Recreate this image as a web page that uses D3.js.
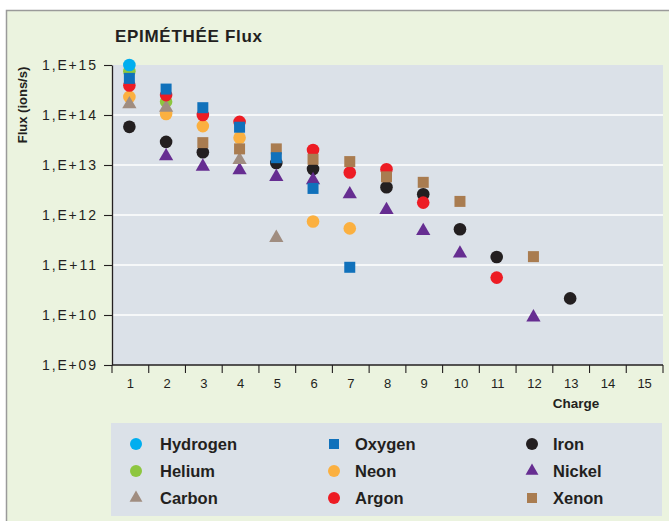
<!DOCTYPE html>
<html>
<head>
<meta charset="utf-8">
<script src="https://cdn.jsdelivr.net/npm/d3@7"></script>
<style>
  html, body { margin: 0; padding: 0; background: #ffffff; }
  svg { display: block; font-family: "Liberation Sans", Arial, Helvetica, sans-serif; }
</style>
</head>
<body>
<svg id="chart" width="669" height="521"></svg>
<script>
// ---------- data ----------
const charges = [1, 2, 3, 4, 5, 6, 7, 8, 9, 10, 11, 12, 13, 14, 15];
const yTickValues = [1e9, 1e10, 1e11, 1e12, 1e13, 1e14, 1e15];
const yTickLabels = ["1,E+09", "1,E+10", "1,E+11", "1,E+12", "1,E+13", "1,E+14", "1,E+15"];

// [charge, flux]
const hydrogen = [[1, 1.0e15]];
const helium   = [[1, 7.5e14], [2, 1.85e14]];
const carbon   = [[1, 1.65e14], [2, 1.4e14], [4, 1.26e13], [5, 3.5e11]];
const oxygen   = [[1, 5.4e14], [2, 3.3e14], [3, 1.4e14], [4, 5.7e13], [5, 1.4e13], [6, 3.4e12], [7, 9.0e10]];
const neon     = [[1, 2.3e14], [2, 1.05e14], [3, 6.0e13], [4, 3.5e13], [6, 7.4e11], [7, 5.4e11]];
const argon    = [[1, 3.9e14], [2, 2.5e14], [3, 1.0e14], [4, 7.3e13], [6, 2.0e13], [7, 7.1e12], [8, 8.2e12], [9, 1.77e12], [11, 5.6e10]];
const iron     = [[1, 5.8e13], [2, 2.9e13], [3, 1.8e13], [5, 1.1e13], [6, 8.3e12], [8, 3.6e12], [9, 2.6e12], [10, 5.2e11], [11, 1.45e11], [13, 2.15e10]];
const nickel   = [[2, 1.5e13], [3, 9.3e12], [4, 7.9e12], [5, 5.8e12], [6, 5.0e12], [7, 2.6e12], [8, 1.26e12], [9, 4.8e11], [10, 1.7e11], [12, 9.0e9]];
const xenon    = [[3, 2.8e13], [4, 2.1e13], [5, 2.1e13], [6, 1.3e13], [7, 1.17e13], [8, 5.8e12], [9, 4.5e12], [10, 1.87e12], [12, 1.47e11]];

const seriesNames = ["Hydrogen", "Helium", "Carbon", "Oxygen", "Neon", "Argon", "Iron", "Nickel", "Xenon"];
const seriesData  = [hydrogen, helium, carbon, oxygen, neon, argon, iron, nickel, xenon];

// ---------- styles ----------
const seriesColors = ["#00aeef", "#8dc63f", "#a08d80", "#1071bb", "#fbb040", "#ed1c24", "#231f20", "#662d91", "#a97c50"];
const seriesShapes = ["circle", "circle", "triangle", "square", "circle", "circle", "circle", "triangle", "square"];
const drawOrder = ["Iron", "Nickel", "Helium", "Neon", "Carbon", "Argon", "Xenon", "Oxygen", "Hydrogen"];

const svg = d3.select("#chart");
const plotBg = "#dbe1e8";
const outerBg = "#ebf3df";
const textColor = "#231f20";

// outer frame
svg.append("rect").attr("x", 0).attr("y", 0).attr("width", 669).attr("height", 521).attr("fill", "#ffffff");
svg.append("rect").attr("x", 6.5).attr("y", 10.5).attr("width", 700).attr("height", 600)
  .attr("fill", outerBg).attr("stroke", "#9a9a9a").attr("stroke-width", 1.5);

const pLeft = 112, pRight = 663, pTop = 65, pBottom = 365;

const x = d3.scaleBand().domain(charges).range([pLeft, pRight]).padding(0);
const y = d3.scaleLog().domain([1e9, 1e15]).range([pBottom, pTop]);

// plot background
svg.append("rect").attr("x", pLeft).attr("y", pTop).attr("width", pRight - pLeft).attr("height", pBottom - pTop).attr("fill", plotBg);

// gridlines
svg.append("g").selectAll("line").data(yTickValues.slice(1, -1)).join("line")
  .attr("x1", pLeft).attr("x2", pRight)
  .attr("y1", d => y(d)).attr("y2", d => y(d))
  .attr("stroke", "#ffffff").attr("stroke-width", 1.5);

// title
svg.append("text").attr("x", 115).attr("y", 41.5)
  .attr("font-size", 17).attr("font-weight", "bold").attr("fill", textColor)
  .attr("textLength", 147).attr("lengthAdjust", "spacing")
  .text("EPIMÉTHÉE Flux");

// y axis
const yAxis = d3.axisLeft(y).tickValues(yTickValues)
  .tickFormat((d, i) => yTickLabels[i]).tickSize(8).tickSizeOuter(0).tickPadding(8);
const gy = svg.append("g").attr("transform", `translate(${pLeft},0)`).call(yAxis);
gy.select(".domain").attr("stroke", textColor).attr("stroke-width", 1.3);
gy.selectAll(".tick line").attr("stroke", textColor).attr("stroke-width", 1.1);
gy.selectAll(".tick text").attr("font-size", 14).attr("fill", textColor)
  .attr("font-family", "'Liberation Sans', Arial, sans-serif")
  .attr("textLength", 54).attr("lengthAdjust", "spacing");

// y title
svg.append("text").attr("transform", "translate(26.5,105) rotate(-90)")
  .attr("text-anchor", "middle").attr("font-size", 13).attr("font-weight", "bold").attr("fill", textColor)
  .text("Flux (ions/s)");

// x axis: line, ticks at band edges, labels at band centres
const gx = svg.append("g");
gx.append("line").attr("x1", pLeft).attr("x2", pRight).attr("y1", pBottom).attr("y2", pBottom)
  .attr("stroke", textColor).attr("stroke-width", 1.3);
const edges = charges.map(c => x(c)).concat([x(charges[charges.length - 1]) + x.bandwidth()]);
gx.selectAll("line.tk").data(edges).join("line").attr("class", "tk")
  .attr("x1", d => d).attr("x2", d => d).attr("y1", pBottom).attr("y2", pBottom + 8)
  .attr("stroke", textColor).attr("stroke-width", 1.1);
gx.selectAll("text").data(charges).join("text")
  .attr("x", d => x(d) + x.bandwidth() / 2).attr("y", 388)
  .attr("text-anchor", "middle").attr("font-size", 13).attr("fill", textColor)
  .text(d => d);
svg.append("text").attr("x", 576).attr("y", 408).attr("text-anchor", "middle")
  .attr("font-size", 13.5).attr("font-weight", "bold").attr("fill", textColor).text("Charge");

// markers
const symType = { circle: d3.symbolCircle, square: d3.symbolSquare, triangle: d3.symbolTriangle };
const symSize = { circle: Math.PI * 6.3 * 6.3, square: 121, triangle: 88 };
const gMarks = svg.append("g");
drawOrder.forEach(name => {
  const i = seriesNames.indexOf(name);
  const shape = seriesShapes[i];
  gMarks.append("g").selectAll("path").data(seriesData[i]).join("path")
    .attr("transform", d => `translate(${x(d[0]) + x.bandwidth() / 2 - 1},${y(d[1])})`)
    .attr("d", d3.symbol().type(symType[shape]).size(symSize[shape]))
    .attr("fill", seriesColors[i]);
});

// legend
svg.append("rect").attr("x", 111).attr("y", 423).attr("width", 551).attr("height", 93).attr("fill", plotBg);
const legRows = [444, 471, 498];
const legMarkX = [136, 334, 532];
const legTextX = [160, 355, 553];
const legSize = { circle: Math.PI * 6 * 6, square: 100, triangle: 72 };
seriesNames.forEach((name, i) => {
  const col = Math.floor(i / 3), row = i % 3;
  const shape = seriesShapes[i];
  svg.append("path")
    .attr("transform", `translate(${legMarkX[col]},${legRows[row]})`)
    .attr("d", d3.symbol().type(symType[shape]).size(legSize[shape]))
    .attr("fill", seriesColors[i]);
  svg.append("text").attr("x", legTextX[col]).attr("y", legRows[row]).attr("dy", "0.36em")
    .attr("font-size", 16.5).attr("font-weight", "bold").attr("fill", textColor)
    .text(name);
});
</script>
</body>
</html>
